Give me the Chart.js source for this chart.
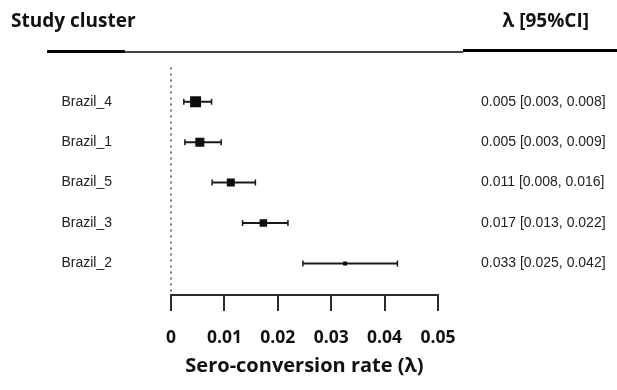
<!DOCTYPE html>
<html>
<head>
<meta charset="utf-8">
<script src="https://cdn.jsdelivr.net/npm/chart.js@4"></script>
<style>
  html, body { margin: 0; padding: 0; background: #fff; }
</style>
</head>
<body>
<canvas id="forest" width="617" height="390"></canvas>
<script>
// Forest plot data
const clusters = ['Brazil_4', 'Brazil_1', 'Brazil_5', 'Brazil_3', 'Brazil_2'];
const estimate = [0.0046, 0.0054, 0.0112, 0.0173, 0.0326];
const lower    = [0.0024, 0.0026, 0.0077, 0.0134, 0.0247];
const upper    = [0.0076, 0.0094, 0.0158, 0.0219, 0.0424];
const ciLabels = ['0.005 [0.003, 0.008]', '0.005 [0.003, 0.009]', '0.011 [0.008, 0.016]',
                  '0.017 [0.013, 0.022]', '0.033 [0.025, 0.042]'];
const xTicks      = [0, 0.01, 0.02, 0.03, 0.04, 0.05];
const xTickLabels = ['0', '0.01', '0.02', '0.03', '0.04', '0.05'];

// box side in px for each study (weight)
const boxSide = [11, 9, 8, 7.5, 4];

const ink = '#111';

// header titles + rule above the plot
const headerPlugin = {
    id: 'header',
    beforeDraw(chart) {
        const ctx = chart.ctx;
        ctx.save();
        ctx.font = 'bold 19px "Open Sans"';
        ctx.fillStyle = ink;
        ctx.textBaseline = 'alphabetic';
        ctx.fillText('Study cluster', 11, 27);
        ctx.textAlign = 'right';
        ctx.fillText('λ [95%CI]', 589, 27);
        ctx.fillStyle = '#000';
        ctx.fillRect(47, 50, 78, 3);
        ctx.fillStyle = '#444';
        ctx.fillRect(125, 51, 338, 2);
        ctx.fillStyle = '#000';
        ctx.fillRect(463, 49, 154, 3);
        ctx.restore();
    }
};

// confidence interval whiskers
const ciPlugin = {
    id: 'ci',
    beforeDatasetsDraw(chart) {
        const { ctx, scales: { x, y } } = chart;
        ctx.save();
        ctx.strokeStyle = '#1a1a1a';
        clusters.forEach((c, i) => {
            const yy = y.getPixelForValue(i);
            const x0 = x.getPixelForValue(lower[i]);
            const x1 = x.getPixelForValue(upper[i]);
            ctx.lineWidth = 2;
            ctx.beginPath();
            ctx.moveTo(x0, yy);
            ctx.lineTo(x1, yy);
            ctx.stroke();
            ctx.lineWidth = 1.5;
            ctx.beginPath();
            ctx.moveTo(x0, yy - 3);
            ctx.lineTo(x0, yy + 3);
            ctx.moveTo(x1, yy - 3);
            ctx.lineTo(x1, yy + 3);
            ctx.stroke();
        });
        ctx.restore();
    }
};

const rowAxis = {
    type: 'linear',
    min: -0.85,
    max: 4.78,
    reverse: true,
    grid: { display: false, drawTicks: false },
    border: { display: false },
    afterBuildTicks: s => { s.ticks = clusters.map((c, i) => ({ value: i })); }
};

new Chart(document.getElementById('forest'), {
    type: 'scatter',
    data: {
        datasets: [{
            data: estimate.map((v, i) => ({ x: v, y: i })),
            pointStyle: 'rect',
            pointRadius: boxSide.map(s => s / Math.SQRT2),
            backgroundColor: '#0d0d0d',
            borderWidth: 0
        }]
    },
    options: {
        responsive: false,
        animation: false,
        events: [],
        layout: { padding: { top: 57, left: 0, right: 0, bottom: 0 } },
        plugins: { legend: { display: false }, tooltip: { enabled: false } },
        scales: {
            x: {
                type: 'linear',
                min: 0,
                max: 0.05,
                position: 'bottom',
                afterBuildTicks: s => { s.ticks = xTicks.map(v => ({ value: v })); },
                afterFit: s => { s.height = 95; },
                grid: {
                    color: c => (c.tick && c.tick.value === 0) ? '#7a7a7a' : 'rgba(0,0,0,0)',
                    lineWidth: 2,
                    tickLength: 16,
                    tickWidth: 2,
                    tickColor: '#2b2b2b'
                },
                border: { display: true, color: '#2b2b2b', width: 2, dash: [2, 4] },
                ticks: {
                    callback: (v, i) => xTickLabels[i],
                    color: ink,
                    autoSkip: false,
                    maxRotation: 0,
                    padding: 17,
                    font: { family: 'Open Sans', weight: 'bold', size: 17.5 }
                },
                title: {
                    display: true,
                    text: 'Sero-conversion rate (λ)',
                    color: ink,
                    font: { family: 'Open Sans', weight: 'bold', size: 20 },
                    padding: { top: 0, bottom: 12 }
                }
            },
            y: Object.assign({}, rowAxis, {
                position: 'left',
                afterFit: s => { s.width = 171; },
                ticks: {
                    callback: v => clusters[v],
                    padding: 59,
                    color: '#222',
                    font: { family: 'Liberation Sans', size: 14 }
                }
            }),
            y2: Object.assign({}, rowAxis, {
                position: 'right',
                afterFit: s => { s.width = 179; },
                ticks: {
                    callback: v => ciLabels[v],
                    padding: 43,
                    color: '#222',
                    font: { family: 'Liberation Sans', size: 14 }
                }
            })
        }
    },
    plugins: [headerPlugin, ciPlugin]
});
</script>
</body>
</html>
